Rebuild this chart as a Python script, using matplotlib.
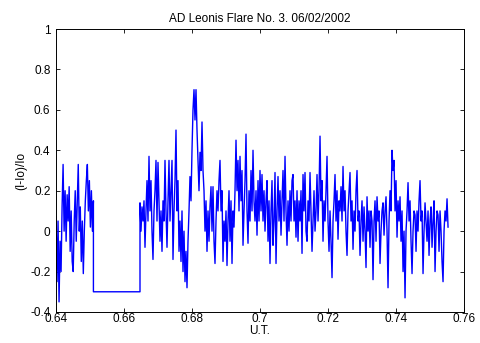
import numpy as np
import matplotlib
matplotlib.use('Agg')
import matplotlib.pyplot as plt

# first stretch of the light curve, before the gap
t1_start, t1_end = 0.6400, 0.6510
flux1 = [0.07, -0.25, 0.05, -0.35, -0.05, -0.2, 0.12, 0.33, 0.0, 0.2,
         -0.05, 0.18, 0.05, 0.22, -0.1, 0.1, -0.15, -0.2, 0.05, 0.2,
         -0.05, 0.15, 0.33, 0.0, 0.12, -0.15, 0.05, -0.21, 0.0, 0.15,
         0.25, 0.33, 0.1, 0.25, 0.02, 0.2, 0.0, 0.15]

# gap, drawn as a flat line
gap_t = [0.6510, 0.6647]
gap_v = [-0.3, -0.3]

# second stretch, after the gap
t2_start, t2_end = 0.6647, 0.7553
flux2 = [0.14, 0.0, 0.12, 0.05, 0.15, -0.08, 0.1, 0.25, 0.05, 0.37,
         0.1, 0.25, 0.0, -0.14, 0.1, 0.2, 0.35, 0.05, 0.34, 0.15,
         -0.05, 0.1, -0.1, 0.15, 0.05, 0.35, 0.1, -0.08, 0.15, 0.35,
         0.05, 0.2, 0.35, -0.14, 0.1, 0.25, 0.5, 0.1, 0.25, -0.1,
         0.05, -0.15, 0.1, -0.2, 0.0, -0.25, -0.1, -0.28, -0.05, 0.1,
         0.27, 0.15, 0.4, 0.6, 0.7, 0.55, 0.7, 0.5, 0.35, 0.2,
         0.39, 0.3, 0.54, 0.3, 0.2, 0.0, 0.15, -0.1, 0.1, -0.05,
         0.12, 0.22, 0.0, 0.22, -0.05, -0.16, 0.05, 0.2, 0.1, 0.25,
         0.35, 0.1, 0.2, -0.15, 0.05, -0.05, 0.1, -0.17, 0.05, 0.2,
         -0.05, 0.15, -0.16, 0.1, 0.02, 0.2, 0.45, 0.2, 0.35, 0.1,
         0.37, 0.15, 0.3, -0.07, 0.1, 0.25, 0.48, 0.1, -0.06, 0.2,
         0.05, 0.3, 0.1, 0.4, 0.15, 0.05, 0.2, -0.02, 0.25, 0.05,
         0.3, 0.1, 0.28, 0.05, 0.2, 0.0, 0.15, 0.25, -0.05, 0.15,
         -0.16, 0.1, 0.25, -0.07, 0.05, 0.29, -0.16, 0.1, 0.27, 0.05,
         0.2, -0.02, 0.15, 0.3, 0.05, 0.37, 0.1, -0.07, 0.15, 0.0,
         0.2, 0.05, 0.25, 0.28, 0.05, 0.15, -0.03, 0.2, -0.05, 0.15,
         0.05, 0.2, -0.11, 0.28, 0.1, 0.29, 0.0, -0.05, 0.15, 0.05,
         0.29, 0.1, -0.1, 0.05, 0.2, 0.0, 0.1, 0.28, 0.05, 0.2,
         0.47, 0.15, 0.25, -0.05, 0.15, 0.05, 0.2, 0.37, 0.05, -0.1,
         0.1, -0.05, -0.23, 0.05, 0.15, 0.28, 0.05, 0.2, -0.04, 0.15,
         0.1, 0.22, 0.05, 0.32, 0.1, 0.2, 0.0, -0.12, 0.1, 0.2,
         0.29, 0.05, 0.15, -0.09, 0.1, 0.0, 0.2, 0.3, 0.05, 0.1,
         -0.12, 0.05, 0.15, -0.05, 0.12, 0.0, -0.18, 0.17, 0.0, 0.1,
         -0.08, 0.1, 0.05, -0.24, 0.05, 0.15, -0.05, 0.17, 0.05, 0.1,
         -0.16, 0.0, 0.1, 0.14, -0.02, 0.1, 0.17, 0.0, -0.28, 0.05,
         0.2, 0.1, 0.4, 0.3, 0.35, 0.1, 0.25, -0.03, 0.15, 0.05,
         0.17, -0.05, 0.1, -0.2, 0.0, -0.33, 0.0, 0.1, 0.24, 0.05,
         0.15, -0.05, -0.21, 0.0, 0.1, 0.08, -0.1, 0.1, 0.0, 0.15,
         0.25, 0.05, 0.1, -0.21, 0.0, 0.14, 0.05, -0.05, 0.1, -0.12,
         0.05, 0.12, -0.08, 0.05, 0.15, -0.2, 0.0, 0.1, 0.08, -0.1,
         0.1, 0.0, -0.15, -0.25, 0.0, 0.1, 0.05, 0.16, 0.02]

xticks = [0.64, 0.66, 0.68, 0.70, 0.72, 0.74, 0.76]
xticklabels = ['0.64', '0.66', '0.68', '0.7', '0.72', '0.74', '0.76']
yticks = [-0.4, -0.2, 0, 0.2, 0.4, 0.6, 0.8, 1]
yticklabels = ['-0.4', '-0.2', '0', '0.2', '0.4', '0.6', '0.8', '1']

plt.rcParams['font.family'] = ['Liberation Sans', 'DejaVu Sans']
plt.rcParams['font.size'] = 8.5

t1 = np.linspace(t1_start, t1_end, len(flux1))
t2 = np.linspace(t2_start, t2_end, len(flux2))
t = np.concatenate([t1, gap_t, t2])
v = np.concatenate([flux1, gap_v, flux2])

fig = plt.figure(figsize=(4.8, 3.43), dpi=100)
ax = fig.add_axes([0.1167, 0.0904, 0.85, 0.825])
ax.plot(t, v, color='#0000ff', lw=1.0)

ax.set_xlim(0.64, 0.76)
ax.set_ylim(-0.4, 1)
ax.set_xticks(xticks)
ax.set_xticklabels(xticklabels)
ax.set_yticks(yticks)
ax.set_yticklabels(yticklabels)
ax.tick_params(direction='in', top=True, right=True, length=3, width=0.6)
ax.tick_params(axis='x', pad=1)
ax.tick_params(axis='y', pad=4)
for s in ax.spines.values():
    s.set_linewidth(0.7)

ax.set_title('AD Leonis Flare No. 3. 06/02/2002', fontsize=8.5, pad=5)
ax.set_xlabel('U.T.', labelpad=0)
ax.set_ylabel('(I-Io)/Io', labelpad=2)

fig.savefig('out.png', dpi=100)
